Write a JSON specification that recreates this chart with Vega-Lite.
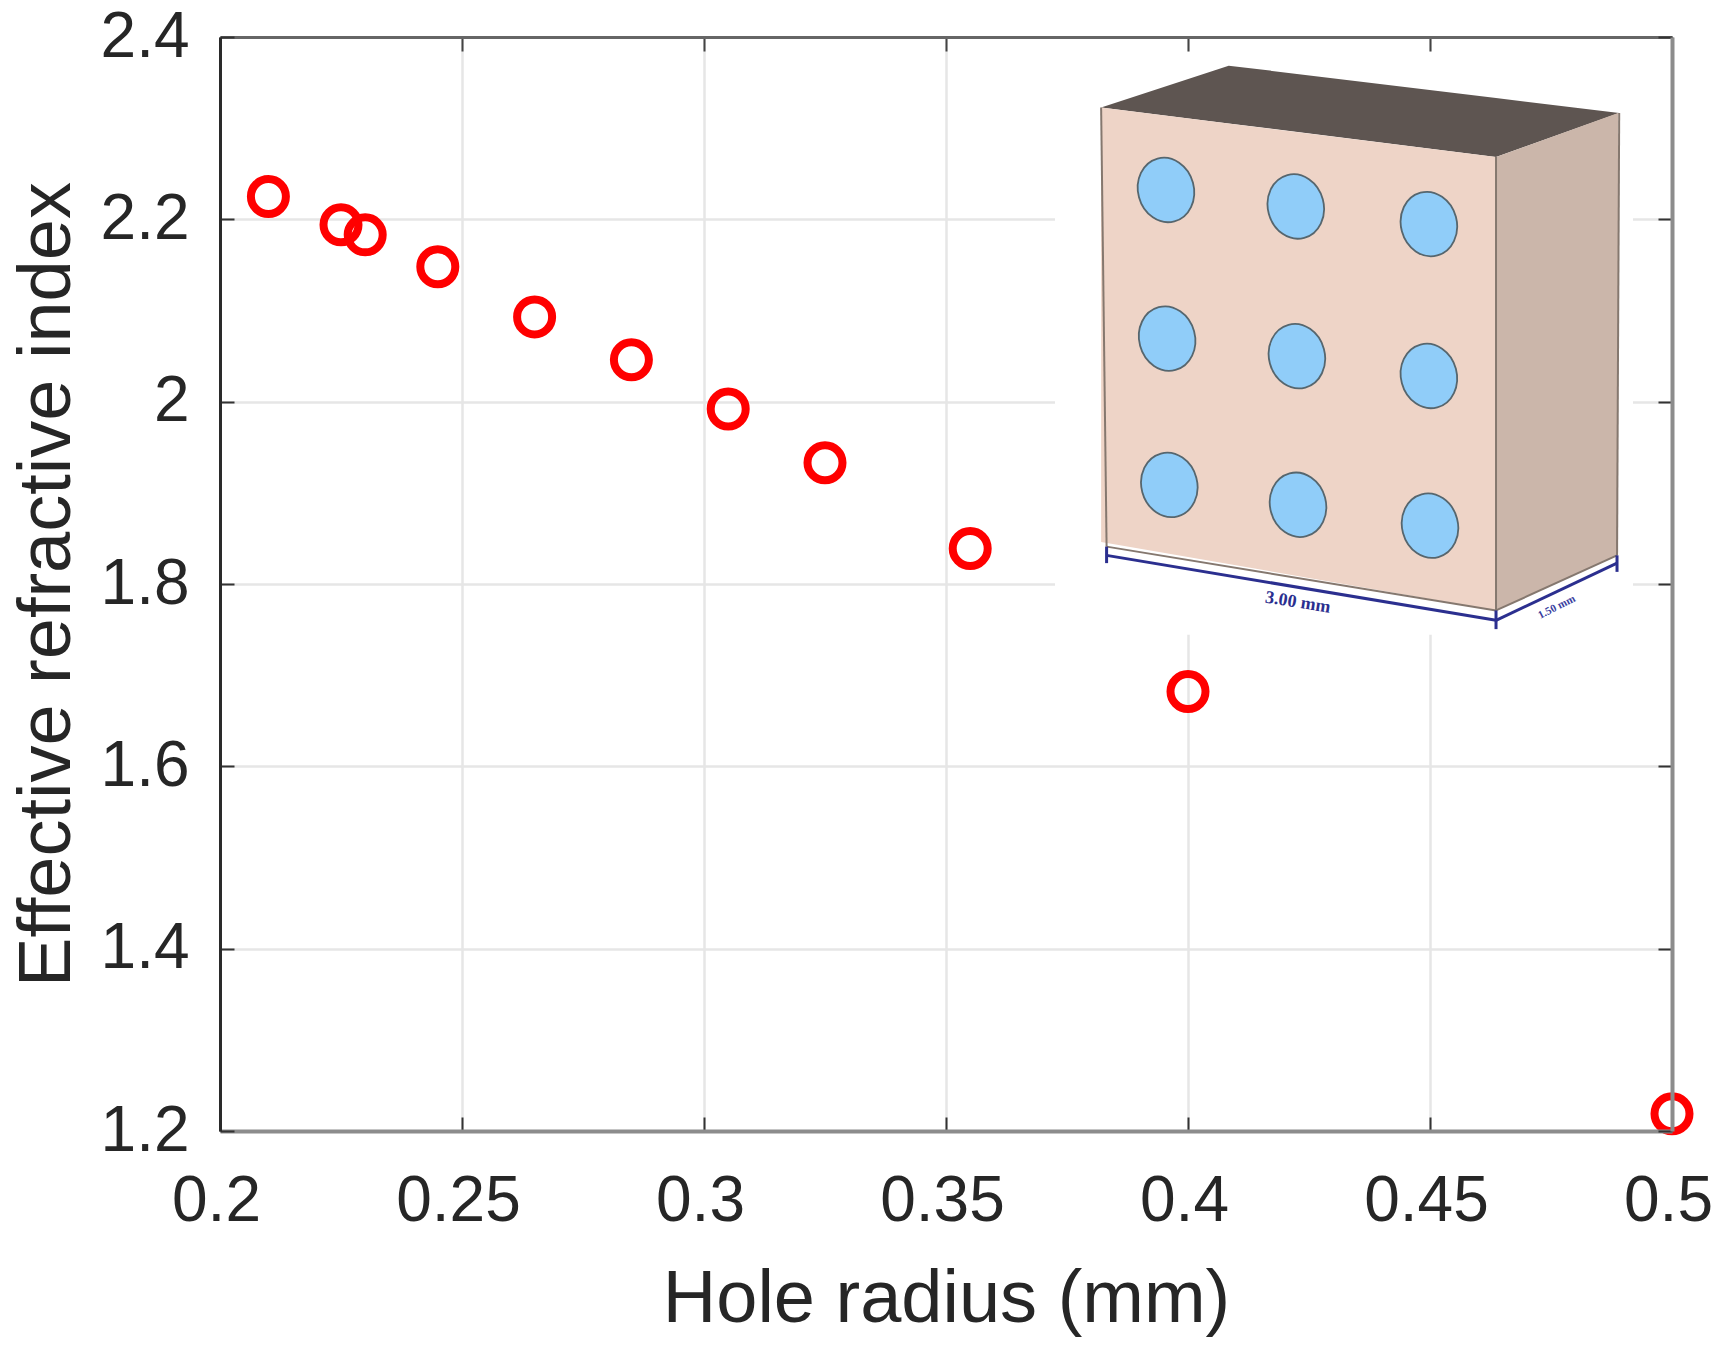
{
"$schema":"https://vega.github.io/schema/vega-lite/v6.json",
"width":1452,"height":1094,
"autosize":{"type":"none"},
"padding":{"left":220,"top":37,"right":53,"bottom":225},
"background":"white",
"config":{"view":{"stroke":null},"axis":{"labelFont":"Liberation Sans","titleFont":"Liberation Sans","labelFontSize":64,"titleFontSize":74,"labelColor":"#262626","titleColor":"#262626","titleFontWeight":"normal","labelOverlap":false,"labelBound":false,"labelFlush":false}},
"datasets":{
"measured":[
{"radius":0.21,"index":2.225},{"radius":0.225,"index":2.194},{"radius":0.23,"index":2.183},{"radius":0.245,"index":2.148},{"radius":0.265,"index":2.093},{"radius":0.285,"index":2.046},{"radius":0.305,"index":1.992},{"radius":0.325,"index":1.933},{"radius":0.355,"index":1.839},{"radius":0.4,"index":1.682},{"radius":0.5,"index":1.219}],
"panel":[{"x1":0.37252,"x2":0.49194,"y1":1.7443,"y2":2.384}],
"faces":[
{"face":"top","x":0.38205,"y":2.3227,"y2":2.3227},
{"face":"top","x":0.40841,"y":2.3686,"y2":2.3052},
{"face":"top","x":0.46364,"y":2.3331,"y2":2.2684},
{"face":"top","x":0.48909,"y":2.3167,"y2":2.3167},
{"face":"front","x":0.38205,"y":2.3227,"y2":1.8462},
{"face":"front","x":0.46364,"y":2.2684,"y2":1.771},
{"face":"side","x":0.46364,"y":2.2684,"y2":1.771},
{"face":"side","x":0.48886,"y":2.3167,"y2":1.8314}],
"edges":[
{"edge":"left","x":0.38205,"y":2.3227},{"edge":"left","x":0.38318,"y":1.841},
{"edge":"mid","x":0.46364,"y":2.2684},{"edge":"mid","x":0.46364,"y":1.771},
{"edge":"right","x":0.48909,"y":2.3167},{"edge":"right","x":0.48864,"y":1.8314},
{"edge":"front","x":0.38318,"y":1.841},{"edge":"front","x":0.46364,"y":1.771},
{"edge":"sideb","x":0.46364,"y":1.771},{"edge":"sideb","x":0.48864,"y":1.8314}],
"holes":[
{"x":0.39545,"y":2.2322},{"x":0.42227,"y":2.2141},{"x":0.44977,"y":2.1948},
{"x":0.39568,"y":2.0692},{"x":0.4225,"y":2.0499},{"x":0.44977,"y":2.0282},
{"x":0.39614,"y":1.9087},{"x":0.42273,"y":1.8869},{"x":0.45,"y":1.864}],
"dims":[
{"seg":"a","x":0.38318,"y":1.8314},{"seg":"a","x":0.46364,"y":1.7602},
{"seg":"b","x":0.46364,"y":1.7602},{"seg":"b","x":0.48864,"y":1.8229},
{"seg":"t1","x":0.38318,"y":1.841},{"seg":"t1","x":0.38318,"y":1.8229},
{"seg":"t2","x":0.46364,"y":1.771},{"seg":"t2","x":0.46364,"y":1.7505},
{"seg":"t3","x":0.48864,"y":1.8314},{"seg":"t3","x":0.48864,"y":1.8133}],
"labelA":[{"x":0.4227,"y":1.7795,"t":"3.00 mm"}],
"labelB":[{"x":0.4762,"y":1.7745,"t":"1.50 mm"}]
},
"layer":[
{"data":{"name":"panel"},"mark":{"type":"rect","color":"white"},
"encoding":{
"x":{"field":"x1","type":"quantitative","scale":{"domain":[0.2,0.5],"nice":false,"zero":false},
"axis":{"orient":"bottom","values":[0.2,0.25,0.3,0.35,0.4,0.45,0.5],"grid":true,"gridColor":"#e6e6e6","gridWidth":2.5,"ticks":false,"labels":false,"domain":false,"title":null,"zindex":0}},
"x2":{"field":"x2"},
"y":{"field":"y1","type":"quantitative","scale":{"domain":[1.2,2.4],"nice":false,"zero":false},
"axis":{"orient":"left","values":[1.2,1.4,1.6,1.8,2,2.2,2.4],"grid":true,"gridColor":"#e6e6e6","gridWidth":2.5,"ticks":false,"labels":false,"domain":false,"title":null,"zindex":0}},
"y2":{"field":"y2"}}},
{"data":{"name":"faces"},"mark":{"type":"area","opacity":1},
"encoding":{
"x":{"field":"x","type":"quantitative","scale":{"domain":[0.2,0.5],"nice":false,"zero":false},
"axis":{"orient":"top","values":[0.2,0.25,0.3,0.35,0.4,0.45,0.5],"grid":false,"labels":false,"title":null,"domainColor":"#666666","domainWidth":3,"tickColor":"#444444","tickSize":-14,"tickWidth":2,"zindex":1}},
"y":{"field":"y","type":"quantitative","scale":{"domain":[1.2,2.4],"nice":false,"zero":false},
"axis":{"orient":"right","values":[1.2,1.4,1.6,1.8,2,2.2,2.4],"grid":false,"labels":false,"title":null,"domainColor":"#8c8c8c","domainWidth":4,"tickColor":"#333333","tickSize":-14,"tickWidth":2,"zindex":1}},
"y2":{"field":"y2"},
"color":{"field":"face","type":"nominal","legend":null,"scale":{"domain":["top","front","side"],"range":["#5e5551","#eed4c7","#cbb6aa"]}}}},
{"data":{"name":"edges"},"mark":{"type":"line","color":"#85786f","strokeWidth":2},
"encoding":{
"x":{"field":"x","type":"quantitative","scale":{"domain":[0.2,0.5],"nice":false,"zero":false},"axis":null},
"y":{"field":"y","type":"quantitative","scale":{"domain":[1.2,2.4],"nice":false,"zero":false},"axis":null},
"detail":{"field":"edge"}}},
{"data":{"name":"holes"},"mark":{"type":"point","filled":true,"shape":"M0.259,0.966A0.86,1,-15,1,1,-0.259,-0.966A0.86,1,-15,1,1,0.259,0.966Z","size":4225,"fill":"#90cdf9","fillOpacity":1,"stroke":"#56666e","strokeWidth":1.8,"strokeOpacity":1},
"encoding":{
"x":{"field":"x","type":"quantitative","scale":{"domain":[0.2,0.5],"nice":false,"zero":false},"axis":null},
"y":{"field":"y","type":"quantitative","scale":{"domain":[1.2,2.4],"nice":false,"zero":false},"axis":null}}},
{"data":{"name":"dims"},"mark":{"type":"line","color":"#2b2f8f","strokeWidth":3},
"encoding":{
"x":{"field":"x","type":"quantitative","scale":{"domain":[0.2,0.5],"nice":false,"zero":false},"axis":null},
"y":{"field":"y","type":"quantitative","scale":{"domain":[1.2,2.4],"nice":false,"zero":false},"axis":null},
"detail":{"field":"seg"}}},
{"data":{"name":"labelA"},"mark":{"type":"text","font":"Liberation Serif","fontWeight":"bold","fontSize":18,"color":"#2b2f8f","angle":9},
"encoding":{
"x":{"field":"x","type":"quantitative","scale":{"domain":[0.2,0.5],"nice":false,"zero":false},"axis":null},
"y":{"field":"y","type":"quantitative","scale":{"domain":[1.2,2.4],"nice":false,"zero":false},"axis":null},
"text":{"field":"t"}}},
{"data":{"name":"labelB"},"mark":{"type":"text","font":"Liberation Serif","fontWeight":"bold","fontSize":11,"color":"#3a3f9f","angle":-27},
"encoding":{
"x":{"field":"x","type":"quantitative","scale":{"domain":[0.2,0.5],"nice":false,"zero":false},"axis":null},
"y":{"field":"y","type":"quantitative","scale":{"domain":[1.2,2.4],"nice":false,"zero":false},"axis":null},
"text":{"field":"t"}}},
{"data":{"name":"measured"},"mark":{"type":"point","shape":"circle","filled":false,"size":1225,"color":"#ff0000","strokeWidth":8,"opacity":1},
"encoding":{
"x":{"field":"radius","type":"quantitative","scale":{"domain":[0.2,0.5],"nice":false,"zero":false},
"axis":{"orient":"bottom","values":[0.2,0.25,0.3,0.35,0.4,0.45,0.5],"labelExpr":"''+datum.value","grid":false,"title":"Hole radius (mm)","titlePadding":30,"labelPadding":52,"labelOffset":-4,"domainColor":"#8c8c8c","domainWidth":4,"tickColor":"#333333","tickSize":-14,"tickWidth":2,"zindex":1}},
"y":{"field":"index","type":"quantitative","scale":{"domain":[1.2,2.4],"nice":false,"zero":false},
"axis":{"orient":"left","values":[1.2,1.4,1.6,1.8,2,2.2,2.4],"labelExpr":"''+datum.value","grid":false,"title":"Effective refractive index","titlePadding":15,"labelPadding":45,"domainColor":"#2a2a2a","domainWidth":3,"tickColor":"#333333","tickSize":-14,"tickWidth":2,"zindex":1}}}}
],
"resolve":{"axis":{"x":"independent","y":"independent"}}
}
